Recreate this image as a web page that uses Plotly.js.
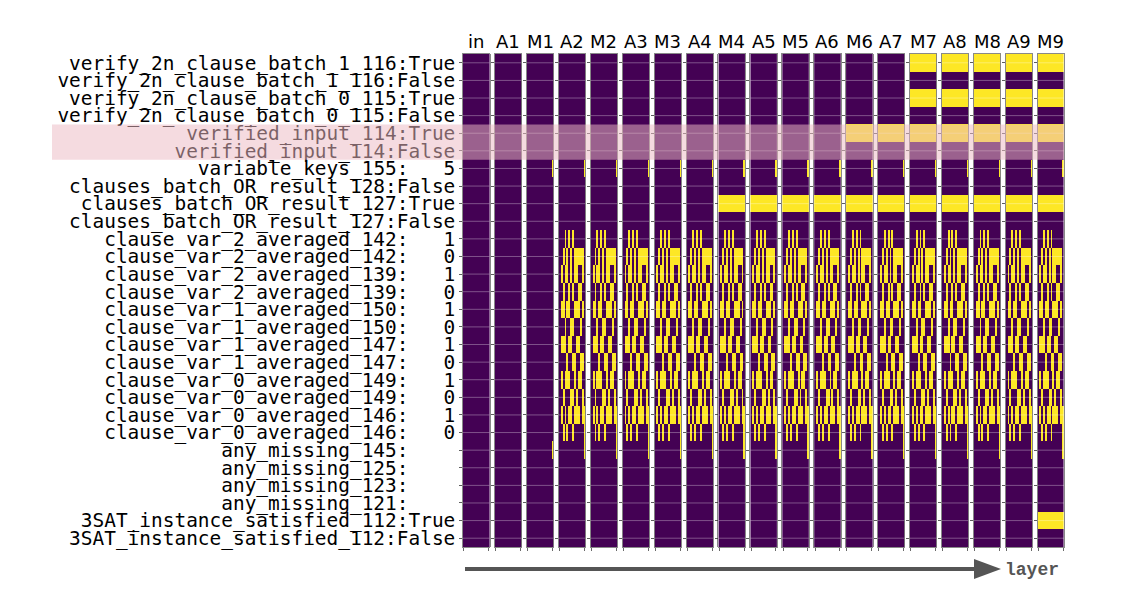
<!DOCTYPE html>
<html><head><meta charset="utf-8">
<script src="https://cdn.plot.ly/plotly-3.0.1.min.js"></script>
<style>html,body{margin:0;padding:0;background:#fff}</style>
</head><body><div id="chart" style="width:1122px;height:605px"></div>
<script>
// ---- data ----
const layers = ["in","A1","M1","A2","M2","A3","M3","A4","M4","A5","M5","A6","M6","A7","M7","A8","M8","A9","M9"];
const features = [
 "verify_2n_clause_batch_1_116:True",
 "verify_2n_clause_batch_1_116:False",
 "verify_2n_clause_batch_0_115:True",
 "verify_2n_clause_batch_0_115:False",
 "verified_input_114:True",
 "verified_input_114:False",
 "variable_keys_155:   5",
 "clauses_batch_OR_result_128:False",
 "clauses_batch_OR_result_127:True",
 "clauses_batch_OR_result_127:False",
 "clause_var_2_averaged_142:   1",
 "clause_var_2_averaged_142:   0",
 "clause_var_2_averaged_139:   1",
 "clause_var_2_averaged_139:   0",
 "clause_var_1_averaged_150:   1",
 "clause_var_1_averaged_150:   0",
 "clause_var_1_averaged_147:   1",
 "clause_var_1_averaged_147:   0",
 "clause_var_0_averaged_149:   1",
 "clause_var_0_averaged_149:   0",
 "clause_var_0_averaged_146:   1",
 "clause_var_0_averaged_146:   0",
 "any_missing_145:    ",
 "any_missing_125:    ",
 "any_missing_123:    ",
 "any_missing_121:    ",
 "3SAT_instance_satisfied_112:True",
 "3SAT_instance_satisfied_112:False"
];
const nPos = 14;
// rows fully active (all positions) from a given layer index onward
const fullRowIdx   = [0, 2, 4, 8, 26];
const fullRowOnset = [14, 14, 12, 8, 18];
// rows active only at the last position, from a given layer onward
const lastPosRowIdx   = [6, 22];
const lastPosOnset    = [2, 2];
// clause_var block (rows 10..21), active from layer A2 onward
const clauseRowStart = 10;
const clauseOnset = 3;
const clausePattern = [
 "00010101000000",
 "00101010111110",
 "01011010110010",
 "00100101001100",
 "01101100111010",
 "00010011000100",
 "01110110011000",
 "00001001100110",
 "01011100101100",
 "00100011010010",
 "01010110111011",
 "00101001000001"
];

// ---- geometry ----
const W = 1122, H = 605;
const mL = 463, mR = 58, mT = 54, mB = 58;
const plotW = W - mL - mR, plotH = H - mT - mB;
const pitch = 31.92, panelW = 26.6;
const px2x = p => (p - mL) / plotW;
const py2y = p => (H - mB - p) / plotH;

function buildZ(li) {
  const z = features.map(() => new Array(nPos).fill(0));
  fullRowIdx.forEach((r, k) => { if (li >= fullRowOnset[k]) z[r].fill(1); });
  lastPosRowIdx.forEach((r, k) => { if (li >= lastPosOnset[k]) z[r][nPos - 1] = 1; });
  if (li >= clauseOnset) {
    clausePattern.forEach((s, k) => {
      for (let c = 0; c < nPos; c++) if (s[c] === "1") z[clauseRowStart + k][c] = 1;
    });
  }
  return z;
}

const data = [], layout = {
  width: W, height: H,
  margin: {l: mL, r: mR, t: mT, b: mB, pad: 0},
  paper_bgcolor: "#fff", plot_bgcolor: "#fff",
  showlegend: false,
  shapes: [], annotations: []
};
const rowIdx = features.map((_, i) => i);
const frame = "#6b6b6b";

layers.forEach((name, i) => {
  const sx = i === 0 ? "" : String(i + 1);
  const xa = "x" + sx, ya = "y" + sx;
  data.push({
    type: "heatmap", xaxis: xa, yaxis: ya,
    z: buildZ(i),
    x: [...Array(nPos).keys()], y: rowIdx,
    zmin: 0, zmax: 1,
    colorscale: [[0, "#440154"], [1, "#fde725"]],
    showscale: false, hoverinfo: "skip"
  });
  const d0 = (i * pitch) / plotW, d1 = (i * pitch + panelW) / plotW;
  layout["xaxis" + sx] = {
    domain: [d0, Math.min(d1, 1)], anchor: ya,
    range: [-0.5, nPos - 0.5], showticklabels: false,
    ticks: "outside", ticklen: 3, tickwidth: 0.8, tickcolor: "#444",
    tickvals: [0, nPos - 1],
    showgrid: false, zeroline: false,
    showline: true, mirror: true, linecolor: frame, linewidth: 0.8
  };
  const yax = {
    domain: [0, 1], anchor: xa,
    range: [features.length - 0.5, -0.5],
    tickvals: rowIdx, ticktext: features,
    showticklabels: i === 0,
    ticks: "outside", ticklen: 3, tickwidth: 0.8, tickcolor: "#333",
    tickfont: {family: "DejaVu Sans Mono", size: 19.45, color: "#000"},
    showgrid: false, zeroline: false,
    showline: true, mirror: true, linecolor: frame, linewidth: 0.8
  };
  if (i > 0) yax.matches = "y";
  layout["yaxis" + sx] = yax;

  // light grid lines through row centres, drawn above the cells
  let path = "";
  rowIdx.forEach(r => { path += `M-0.5,${r}H${nPos - 0.5}`; });
  layout.shapes.push({
    type: "path", xref: xa, yref: ya, path: path, layer: "above",
    line: {color: "rgba(255,255,255,0.32)", width: 1}
  });

  layout.annotations.push({
    text: name, xref: xa + " domain", yref: "paper", x: 0.5, y: 1,
    xanchor: "center", yanchor: "bottom", yshift: 0, showarrow: false,
    font: {family: "DejaVu Sans", size: 18, color: "#000"}
  });
});

// highlighted rows (verified_input)
layout.shapes.push({
  type: "rect", xref: "paper", yref: "y",
  x0: px2x(52), x1: 1, y0: 3.5, y1: 5.5,
  fillcolor: "rgba(236,186,196,0.52)", line: {width: 0}, layer: "above"
});

// "layer" arrow
layout.shapes.push({
  type: "line", xref: "paper", yref: "paper",
  x0: px2x(465), x1: px2x(978), y0: py2y(569), y1: py2y(569),
  line: {color: "#555", width: 4}
});
layout.shapes.push({
  type: "path", xref: "paper", yref: "paper",
  path: `M${px2x(974)},${py2y(559)}L${px2x(1001)},${py2y(569)}L${px2x(974)},${py2y(579)}Z`,
  fillcolor: "#555", line: {color: "#555", width: 0}
});
layout.annotations.push({
  text: "<b>layer</b>", xref: "paper", yref: "paper",
  x: px2x(1003), y: py2y(570), xanchor: "left", yanchor: "middle", showarrow: false,
  font: {family: "Liberation Mono", size: 18, color: "#555"}
});

Plotly.newPlot("chart", data, layout, {staticPlot: true, displayModeBar: false});
</script></body></html>
